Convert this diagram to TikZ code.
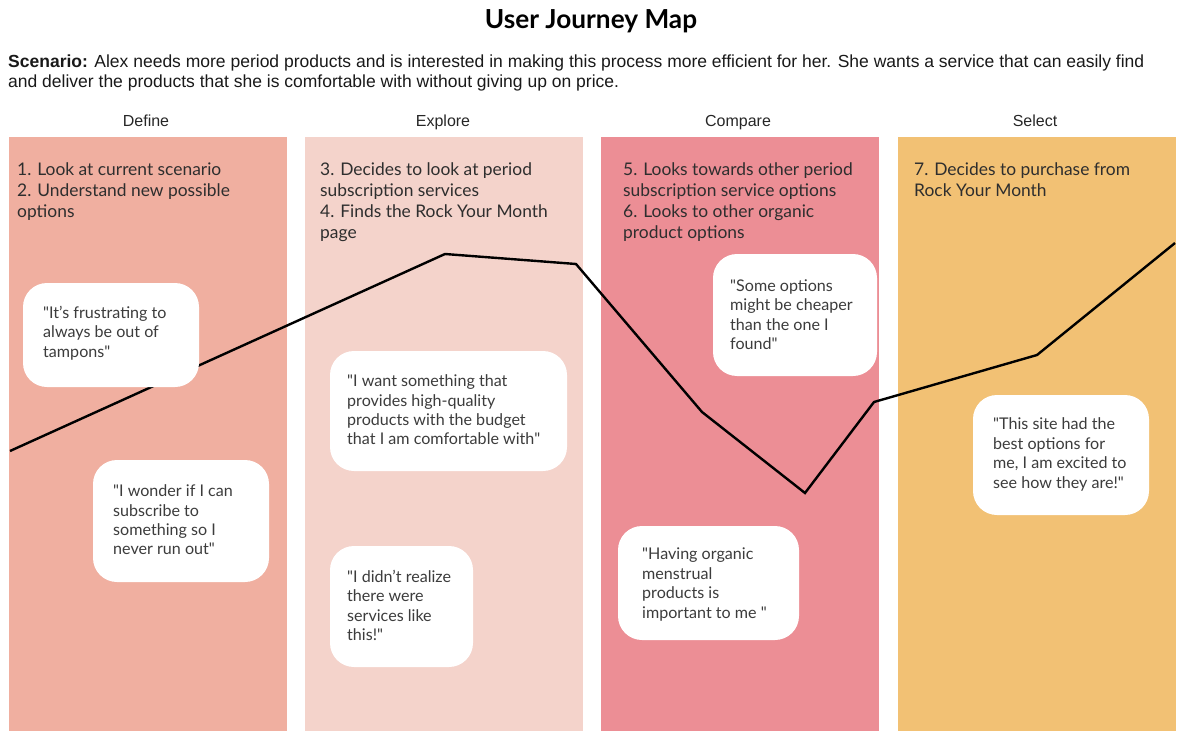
\documentclass[tikz,border=0pt]{standalone}
\usepackage{fontspec}
\setmainfont{Lato}
\newfontfamily\scenariofont{Liberation Sans}

\definecolor{definefill}{HTML}{F0AFA0}
\definecolor{explorefill}{HTML}{F4D3CB}
\definecolor{comparefill}{HTML}{EC8E95}
\definecolor{selectfill}{HTML}{F2C174}
\definecolor{stepgray}{HTML}{2E2E2E}
\definecolor{quotegray}{HTML}{3C3C3C}

\newcommand{\qm}{\textquotedbl}

\begin{document}
\begin{tikzpicture}[x=1pt,y=1pt,yscale=-1,
  stage/.style={inner sep=0, minimum width=278, minimum height=594},
  stagehead/.style={anchor=base, inner sep=0.75pt, text=black!85, font=\scenariofont\fontsize{16}{19}\selectfont},
  steptext/.style={anchor=north west, align=left, inner sep=0, text=stepgray, font=\fontsize{17.4}{21}\selectfont},
  bubble/.style={fill=white, rounded corners=24, inner sep=0},
  quotetext/.style={anchor=west, align=left, inner sep=0, text=quotegray, font=\fontsize{16.1}{19.4}\selectfont},
  journey/.style={line width=2.4, line join=miter, black}]
\useasboundingbox (0,0) rectangle (1182,738);

% Text Node
\node [font=\bfseries\fontsize{26.2}{30}\selectfont] (title) at (591,21) {User Journey Map};
% Text Node
\node [anchor=north west, align=left, inner sep=0, text=black!90, font=\scenariofont\fontsize{17.5}{20}\selectfont] (scenario) at (8,54.5)
  {\textbf{Scenario:} Alex needs more period products and is interested in making this process more efficient for her. She wants a service that can easily find\\and deliver the products that she is comfortable with without giving up on price.};

%Shape: Rectangle
\node [stage, fill=definefill] (define) at (147.5,434) {};
\node [stage, fill=explorefill] (explore) at (443.5,434) {};
\node [stage, fill=comparefill] (compare) at (740,434) {};
\node [stage, fill=selectfill] (select) at (1037,434) {};

% Text Node
\node [stagehead] (hdefine) at (146,126.5) {Define};
\node [stagehead] (hexplore) at (443,126.5) {Explore};
\node [stagehead] (hcompare) at (738,126.5) {Compare};
\node [stagehead] (hselect) at (1035,126.5) {Select};

% Text Node
\node [steptext] (sdefine) at (17,162.5) {1. Look at current scenario\\2. Understand new possible\\options};
\node [steptext] (sexplore) at (320,162.5) {3. Decides to look at period\\subscription services\\4. Finds the Rock Your Month\\page};
\node [steptext] (scompare) at (623,162.5) {5. Looks towards other period\\subscription service options\\6. Looks to other organic\\product options};
\node [steptext] (sselect) at (914,162.5) {7. Decides to purchase from\\Rock Your Month};

%Straight Lines
\coordinate (p1) at (10,451);
\coordinate (p2) at (445,254);
\coordinate (p3) at (576,264);
\coordinate (p4) at (702,412);
\coordinate (p5) at (805,493);
\coordinate (p6) at (874,402);
\coordinate (p7) at (1037,355);
\coordinate (p8) at (1175,243);
\draw [journey] (p1) -- (p2) -- (p3) -- (p4) -- (p5) -- (p6) -- (p7) -- (p8);

%Shape: Rounded Rect
\node [bubble, minimum width=176, minimum height=104] (b1) at (111,335) {};
\node [bubble, minimum width=176, minimum height=122] (b2) at (181,521) {};
\node [bubble, minimum width=237, minimum height=120] (b3) at (448.5,411) {};
\node [bubble, minimum width=143, minimum height=121] (b4) at (401.5,606.5) {};
\node [bubble, minimum width=164, minimum height=122] (b5) at (795,315) {};
\node [bubble, minimum width=181, minimum height=114] (b6) at (708.5,583) {};
\node [bubble, minimum width=176, minimum height=120] (b7) at (1061,455) {};

% Text Node
\node [quotetext] (q1) at (43,333) {\qm It’s frustrating to\\always be out of\\tampons\qm};
\node [quotetext] (q2) at (113,520) {\qm I wonder if I can\\subscribe to\\something so I\\never run out\qm};
\node [quotetext] (q3) at (347,410) {\qm I want something that\\provides high-quality\\products with the budget\\that I am comfortable with\qm};
\node [quotetext] (q4) at (347,605.5) {\qm I didn’t realize\\there were\\services like\\this!\qm};
\node [quotetext] (q5) at (730,314.5) {\qm Some options\\might be cheaper\\than the one I\\found\qm};
\node [quotetext] (q6) at (642,584.5) {\qm Having organic\\menstrual\\products is\\important to me \qm};
\node [quotetext] (q7) at (993,454.5) {\qm This site had the\\best options for\\me, I am excited to\\see how they are!\qm};

\end{tikzpicture}
\end{document}
